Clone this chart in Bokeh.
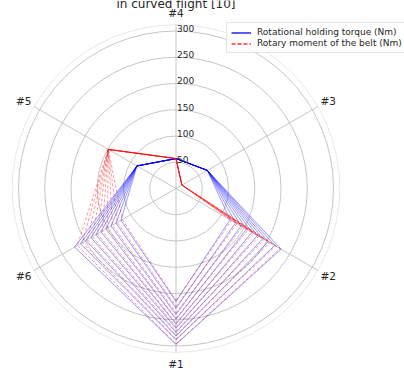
import numpy as np
from bokeh.plotting import figure
from bokeh.models import Range1d, Legend, LegendItem
from bokeh.core.properties import value
from bokeh.embed import file_html
from bokeh.resources import INLINE

# ---------------- data ----------------
axis_labels = ["#1", "#2", "#3", "#4", "#5", "#6"]
r_ticks = [50, 100, 150, 200, 250, 300]
r_tick_labels = ["50", "100", "150", "200", "250", "300"]
title_text = "in curved flight [10]"
series_names = ["Rotational holding torque (Nm)", "Rotary moment of the belt (Nm)"]

# Rotational holding torque (Nm), one value per case at each axis
torque_1 = [215, 228, 240, 249, 258, 266, 274, 281, 288, 297]
torque_2 = [119, 131, 143, 155, 167, 179, 191, 203, 217, 231]
torque_3 = [69, 69, 69, 69, 69, 69, 69, 69, 69, 69]
torque_4 = [57, 57, 57, 57, 57, 57, 57, 57, 57, 57]
torque_5 = [86, 86, 86, 86, 86, 86, 86, 86, 86, 86]
torque_6 = [121, 132, 143, 154, 165, 176, 187, 198, 210, 223]

# Rotary moment of the belt (Nm)
belt_1 = [213, 225, 237, 247, 256, 263, 271, 279, 287, 296]
belt_2 = [122, 134, 146, 158, 170, 182, 194, 206, 219, 229]
belt_3 = [13, 13, 13, 13, 13, 13, 13, 13, 13, 13]
belt_4 = [57, 57, 57, 57, 57, 57, 57, 57, 57, 57]
belt_5 = [149, 149, 149, 149, 149, 149, 149, 149, 149, 149]
belt_6 = [118, 129, 140, 151, 162, 173, 184, 195, 206, 217]

# ---------------- layout ----------------
W, H = 404, 376
CX, CY = 175.5, 188.0      # centre in canvas px
SCALE = 0.525              # px per unit
R_MAX = 312
LABEL_R = 335

angles = np.deg2rad(-90 + 60 * np.arange(6))

p = figure(width=W, height=H, output_backend="svg", toolbar_location=None,
           x_axis_location=None, y_axis_location=None,
           x_range=Range1d(-CX / SCALE, (W - CX) / SCALE),
           y_range=Range1d(-(H - CY) / SCALE, CY / SCALE),
           min_border=0, outline_line_color=None, background_fill_color="white")
p.grid.visible = False

# grid circles
p.circle(x=[0] * len(r_ticks), y=[0] * len(r_ticks), radius=r_ticks,
         fill_color=None, line_color="#b8b8b8", line_width=0.8)
p.circle(x=[0], y=[0], radius=[R_MAX], fill_color=None, line_color="#e2e2e2", line_width=0.8)
# spokes
p.multi_line(xs=[[0, R_MAX * np.cos(a)] for a in angles],
             ys=[[0, R_MAX * np.sin(a)] for a in angles],
             line_color="#b8b8b8", line_width=0.8)


def loops(cols):
    xs, ys = [], []
    for i in range(len(cols[0])):
        vals = [c[i] for c in cols]
        vals = vals + vals[:1]
        ang = list(angles) + [angles[0]]
        xs.append([v * np.cos(a) for v, a in zip(vals, ang)])
        ys.append([v * np.sin(a) for v, a in zip(vals, ang)])
    return xs, ys


bx, by = loops([torque_1, torque_2, torque_3, torque_4, torque_5, torque_6])
rx, ry = loops([belt_1, belt_2, belt_3, belt_4, belt_5, belt_6])

p.multi_line(xs=bx, ys=by, line_color="#0000ff", line_width=0.8, line_alpha=0.5)
p.multi_line(xs=rx, ys=ry, line_color="#ff0000", line_width=0.8, line_alpha=0.5,
             line_dash="3 2")

# radial tick labels
p.text(x=[2] * len(r_ticks), y=[r + 5 for r in r_ticks], text=r_tick_labels,
       text_font=value("DejaVu Sans"), text_font_size="9px", text_color="#262626",
       text_align="left", text_baseline="alphabetic")

# angular labels
p.text(x=[LABEL_R * np.cos(a) for a in angles], y=[LABEL_R * np.sin(a) for a in angles],
       text=axis_labels, text_font=value("DejaVu Sans"), text_font_size="10.5px",
       text_color="#262626", text_align="center", text_baseline="middle")

# title (partly outside the view, as in the reference)
p.text(x=[0], y=[(CY - 3) / SCALE], text=[title_text], text_font=value("DejaVu Sans"),
       text_font_size="12px", text_color="#262626", text_align="center",
       text_baseline="alphabetic")

# legend (sample lines placed outside the visible range)
far = 5000
lb = p.line(x=[far, far + 1], y=[far, far], line_color="#0000ff", line_width=1.3)
lr = p.line(x=[far, far + 1], y=[far, far], line_color="#ff0000", line_width=1.3,
            line_dash="4 2", line_alpha=0.8)
legend = Legend(items=[LegendItem(label=series_names[0], renderers=[lb]),
                       LegendItem(label=series_names[1], renderers=[lr])],
                location=(226, H - 53), label_text_font="DejaVu Sans",
                label_text_font_size="9px", label_text_color="#262626",
                glyph_width=20, glyph_height=9, label_height=9, label_standoff=6,
                padding=4, spacing=1, margin=0,
                border_line_color="#cccccc", border_line_width=0.8,
                background_fill_color="white", background_fill_alpha=0.8)
p.add_layout(legend)

open("out.html", "w").write(file_html(p, INLINE))
